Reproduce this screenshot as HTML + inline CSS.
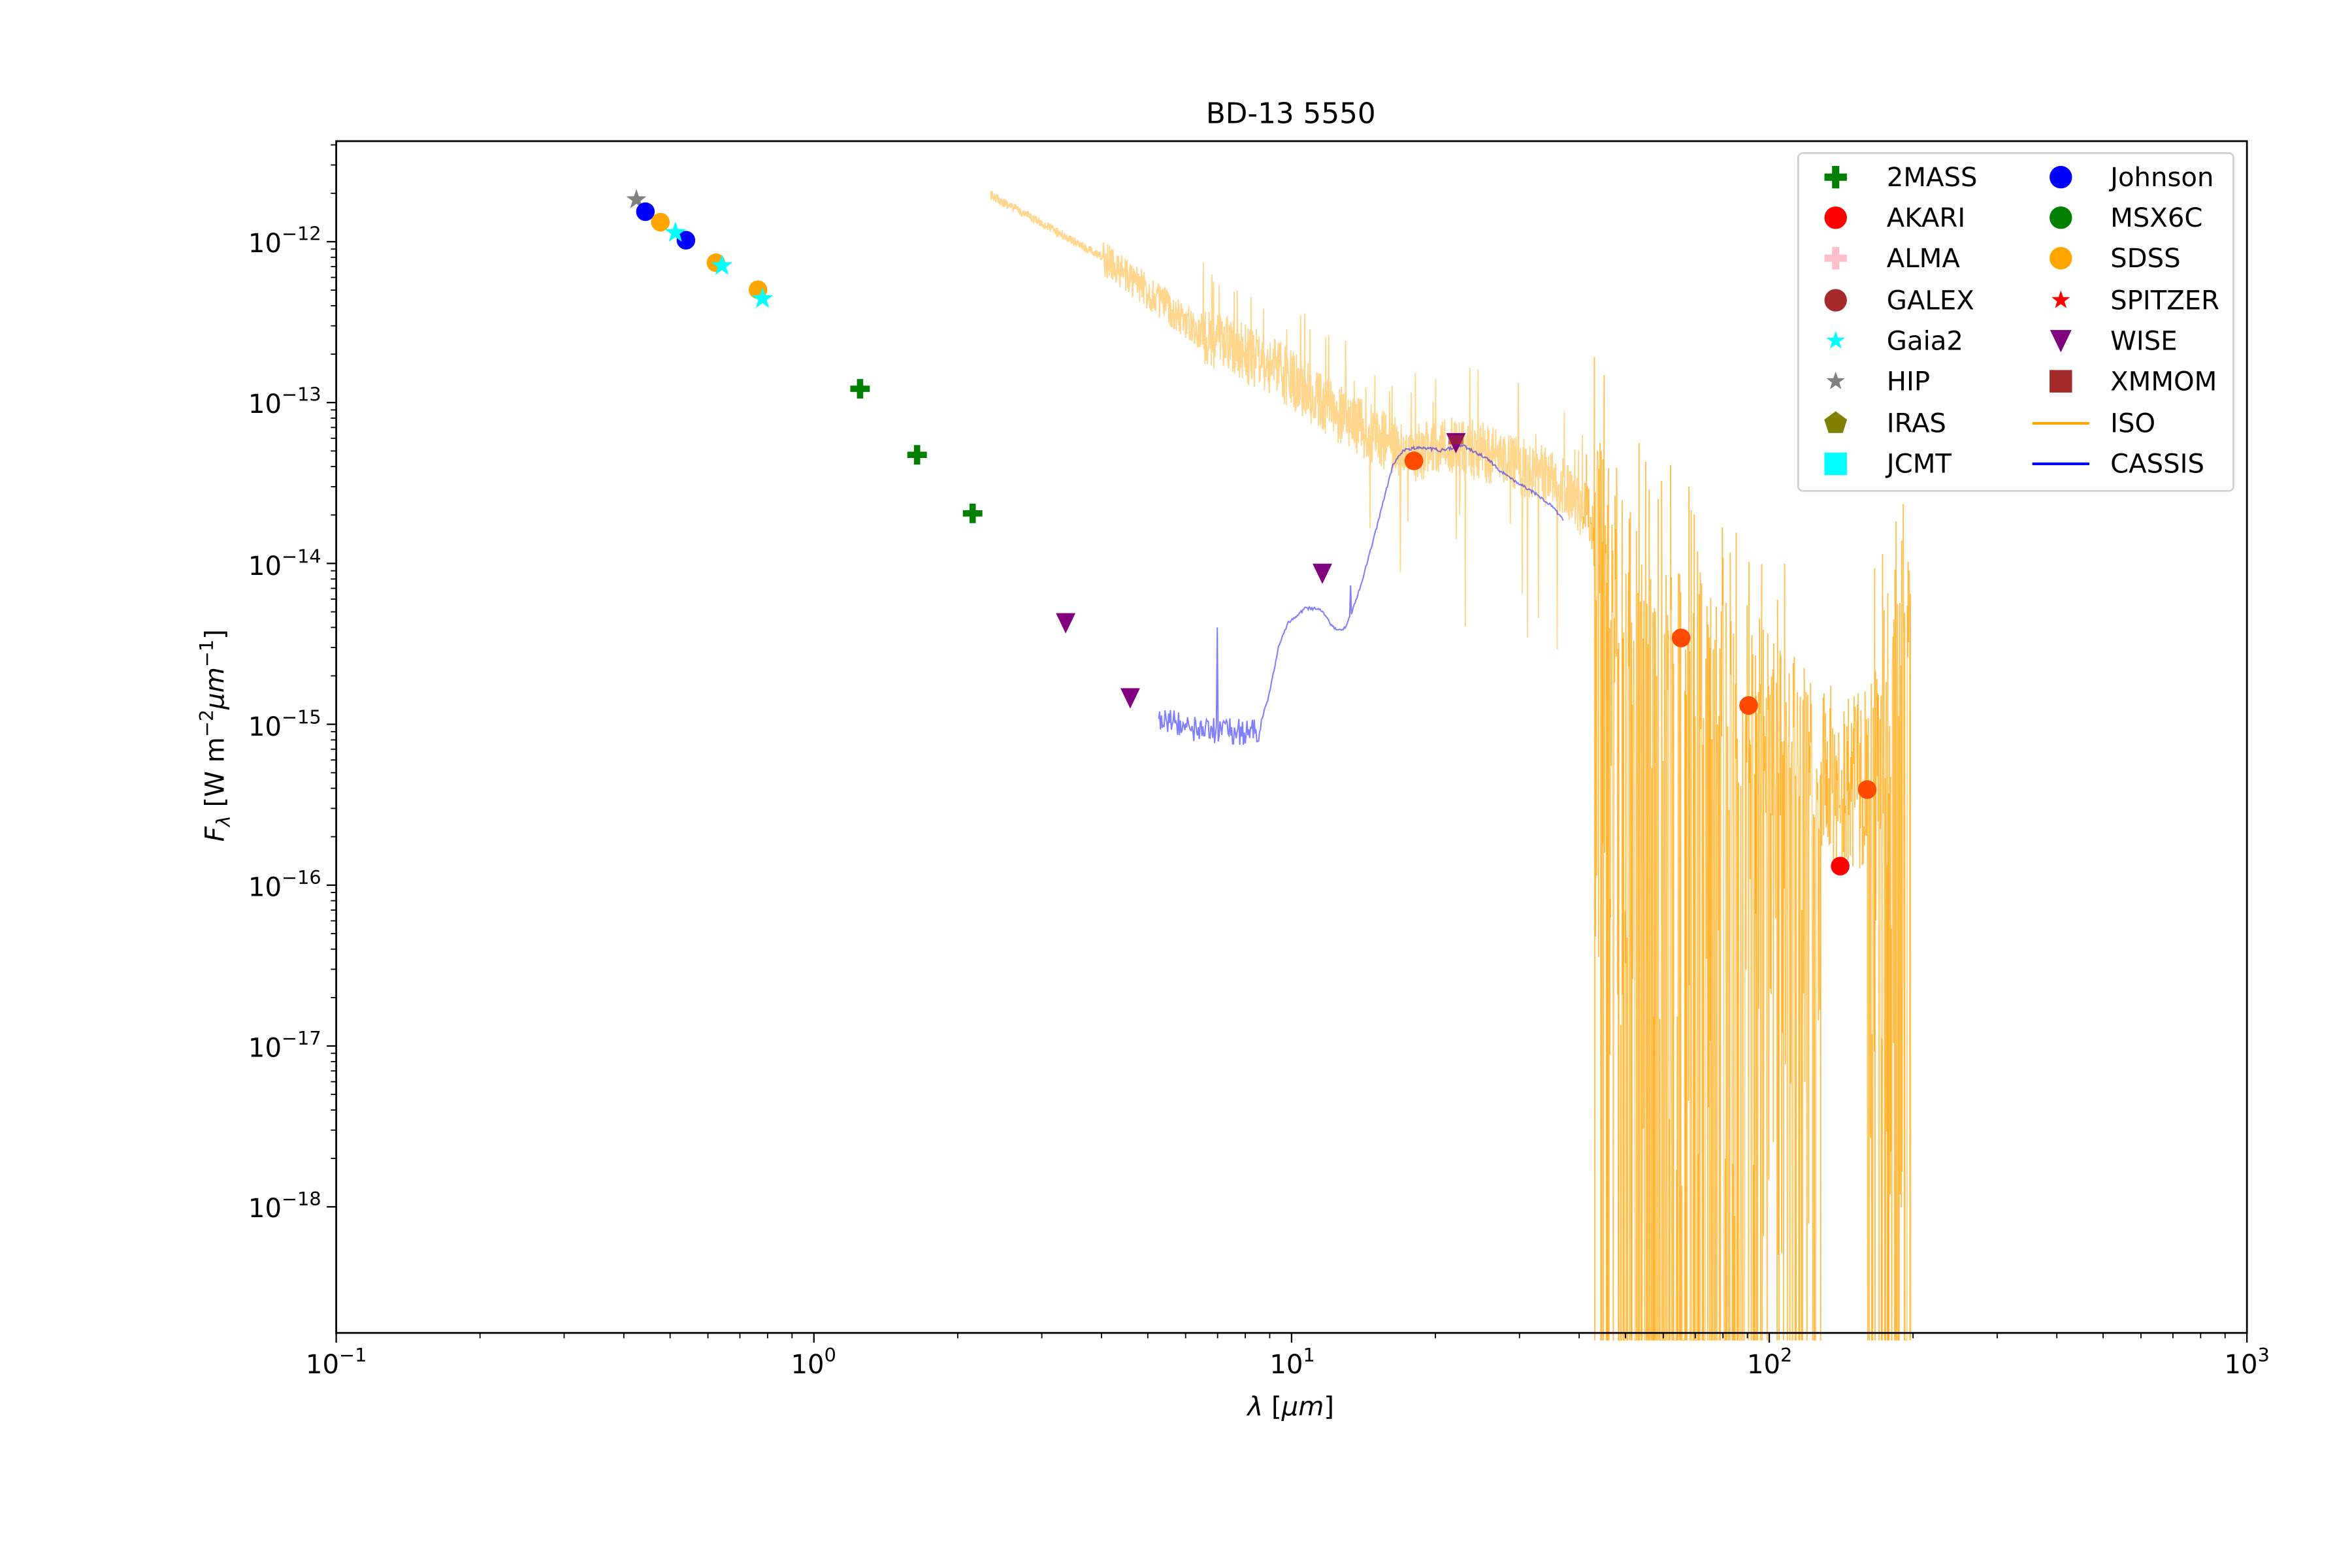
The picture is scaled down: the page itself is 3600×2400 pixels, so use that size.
<!DOCTYPE html>
<html><head><meta charset="utf-8"><style>
html,body{margin:0;padding:0;background:#fff;}
svg{display:block;}
text{font-family:"DejaVu Sans","Liberation Sans",sans-serif;fill:#000;}
</style></head><body>
<svg id="s" width="3600" height="2400" viewBox="0 0 1567 1044.6" xmlns="http://www.w3.org/2000/svg">
<rect x="0" y="0" width="1567" height="1045" fill="#fff"/>
<g id="curves"></g>
<g id="marks"></g>
<rect x="224" y="94" width="1273" height="794" fill="none" stroke="#000" stroke-width="1.2"/>
<g id="ticks" stroke="#000" stroke-width="1"></g>
<text x="860" y="82" font-size="19" text-anchor="middle">BD-13 5550</text>
<g font-size="17.5" text-anchor="middle">
<text x="224" y="915">10<tspan dy="-8" font-size="12.5">−1</tspan></text>
<text x="542" y="915">10<tspan dy="-8" font-size="12.5">0</tspan></text>
<text x="861" y="915">10<tspan dy="-8" font-size="12.5">1</tspan></text>
<text x="1179" y="915">10<tspan dy="-8" font-size="12.5">2</tspan></text>
<text x="1497" y="915">10<tspan dy="-8" font-size="12.5">3</tspan></text>
</g>
<g font-size="17.5" text-anchor="end">
<text x="214" y="168">10<tspan dy="-8" font-size="12.5">−12</tspan></text>
<text x="214" y="275">10<tspan dy="-8" font-size="12.5">−13</tspan></text>
<text x="214" y="383">10<tspan dy="-8" font-size="12.5">−14</tspan></text>
<text x="214" y="490">10<tspan dy="-8" font-size="12.5">−15</tspan></text>
<text x="214" y="597">10<tspan dy="-8" font-size="12.5">−16</tspan></text>
<text x="214" y="704">10<tspan dy="-8" font-size="12.5">−17</tspan></text>
<text x="214" y="811">10<tspan dy="-8" font-size="12.5">−18</tspan></text>
</g>
<text x="860" y="943" font-size="17.5" text-anchor="middle"><tspan font-style="italic">λ</tspan> [<tspan font-style="italic">μm</tspan>]</text>
<text transform="translate(149,490) rotate(-90)" font-size="17.5" text-anchor="middle"><tspan font-style="italic">F</tspan><tspan font-style="italic" font-size="12.5" dy="4">λ</tspan><tspan dy="-4"> [W m</tspan><tspan font-size="12.5" dy="-7">−2</tspan><tspan font-style="italic" dy="7">μm</tspan><tspan font-size="12.5" dy="-7">−1</tspan><tspan dy="7">]</tspan></text>
<rect x="1198" y="102" width="290" height="225" rx="3" fill="#fff" fill-opacity="0.8" stroke="#d0d0d0" stroke-width="1.2"/>
<g id="legm"></g>
<g font-size="17.5">
<text x="1257" y="124">2MASS</text><text x="1257" y="151">AKARI</text><text x="1257" y="178">ALMA</text><text x="1257" y="206">GALEX</text>
<text x="1257" y="233">Gaia2</text><text x="1257" y="260">HIP</text><text x="1257" y="288">IRAS</text><text x="1257" y="315">JCMT</text>
<text x="1406" y="124">Johnson</text><text x="1406" y="151">MSX6C</text><text x="1406" y="178">SDSS</text><text x="1406" y="206">SPITZER</text>
<text x="1406" y="233">WISE</text><text x="1406" y="260">XMMOM</text><text x="1406" y="288">ISO</text><text x="1406" y="315">CASSIS</text>
</g>
</svg>
<script>
var NS="http://www.w3.org/2000/svg";
function el(p,t,a){var e=document.createElementNS(NS,t);for(var k in a)e.setAttribute(k,a[k]);p.appendChild(e);return e;}
var T=document.getElementById('ticks');
for(var d=-1;d<=3;d++){var x0=224+318.25*(d+1);
 el(T,'line',{x1:x0,x2:x0,y1:888,y2:894.5});
 if(d<3)for(var m=2;m<10;m++){var x=x0+318.25*Math.log10(m);el(T,'line',{x1:x,x2:x,y1:888,y2:891.6,'stroke-width':0.8});}}
for(var d=-12;d>=-18;d--){var y0=161+107.17*(-12-d);
 el(T,'line',{x1:217.7,x2:224,y1:y0,y2:y0});}
for(var d=-11;d>=-18;d--){var y0=161+107.17*(-12-d);
 for(var m=2;m<10;m++){var y=y0-107.17*Math.log10(m);if(y>=94&&y<=888)el(T,'line',{x1:220.4,x2:224,y1:y,y2:y,'stroke-width':0.8});}}
var seed=12345;function rnd(){seed=(seed*16807)%2147483647;return seed/2147483647;}
function interp(pts,x){for(var i=0;i<pts.length-1;i++){if(x<=pts[i+1][0]){var a=pts[i],b=pts[i+1];return a[1]+(b[1]-a[1])*(x-a[0])/(b[0]-a[0]);}}return pts[pts.length-1][1];}
var C=document.getElementById('curves');
var iso=[[660,130],[700,152],[740,175],[800,222],[850,245],[900,282],[940,302],[970,296],[1000,305],[1040,322],[1060,345],[1075,375],[1090,405],[1120,430],[1165,470],[1200,500],[1225,520],[1245,520],[1262,470],[1273,420]];
var pts=[];
for(var x=660;x<=1273;x+=0.25){var b=interp(iso,x);var a=x<735?3:(x<800?12:(x<1062?20:60));
 var y=b+(rnd()-0.5)*2*a;
 if(x>1062&&!(x>1213&&x<1244)){var p=(x>1078&&x<1165)?0.45:0.2;if(x>1244)p=0.4;var r=rnd();if(r<p)y=893;else if(r<p+0.2)y=b+60+rnd()*300;}
 else if(x>900&&rnd()<0.02)y=b+40+rnd()*80;
 if(x>800&&x<1062&&rnd()<0.03)y=b-25-rnd()*30;
 if(x>1245&&rnd()<0.06)y=b-80-rnd()*90;
 if(x>1062&&x<1190&&rnd()<0.04)y=b-60-rnd()*60;
 if(y<110)y=110;if(y>893)y=893;
 pts.push([x,y]);}
var d="";var segs=[];
for(var i=0;i<pts.length;i++){var p=pts[i];
 if(p[0]<1055){d+=(i?"L":"M")+p[0].toFixed(2)+","+p[1].toFixed(1);}
 else if(i>0){segs.push("M"+pts[i-1][0].toFixed(2)+","+pts[i-1][1].toFixed(1)+"L"+p[0].toFixed(2)+","+p[1].toFixed(1));}}
el(C,'path',{d:d,fill:'none',stroke:'#ffa500','stroke-opacity':0.45,'stroke-width':0.8});
var G=el(C,'g',{fill:'none',stroke:'#ffa500','stroke-opacity':0.45,'stroke-width':0.8});
for(var i=0;i<segs.length;i++)el(G,'path',{d:segs[i]});
var cas=[[772,478],[790,485],[810,487],[838,488],[845,465],[852,430],[858,415],[870,405],[880,406],[888,418],[895,420],[900,410],[905,395],[910,378],[915,360],[920,340],[928,310],[935,300],[945,298],[960,300],[975,297],[990,305],[1000,314],[1012,322],[1025,330],[1035,338],[1042,347]];
d="";var first=true;
for(var x=772;x<=1042;x+=0.6){var b=interp(cas,x);var a=x<840?9:1;var y=b+(rnd()-0.5)*2*a;
 if(Math.abs(x-811)<0.4)y=418;if(Math.abs(x-900)<0.4)y=390;
 d+=(first?"M":"L")+x.toFixed(2)+","+y.toFixed(1);first=false;}
el(C,'path',{d:d,fill:'none',stroke:'#0000ff','stroke-opacity':0.5,'stroke-width':0.9});
var M=document.getElementById('marks');
function circ(g,x,y,c,r){el(g,'circle',{cx:x,cy:y,r:r||6.2,fill:c});}
function star(g,x,y,c,r){var s="";for(var i=0;i<10;i++){var rr=i%2?r*0.4:r;var an=-Math.PI/2+i*Math.PI/5;s+=(i?"L":"M")+(x+rr*Math.cos(an)).toFixed(2)+","+(y+rr*Math.sin(an)).toFixed(2);}el(g,'path',{d:s+"Z",fill:c});}
function plus(g,x,y,c,k){k=k||1;var a=6.5*k,b=2.1*k;el(g,'path',{d:"M"+(x-a)+","+(y-b)+"H"+(x-b)+"V"+(y-a)+"H"+(x+b)+"V"+(y-b)+"H"+(x+a)+"V"+(y+b)+"H"+(x+b)+"V"+(y+a)+"H"+(x-b)+"V"+(y+b)+"H"+(x-a)+"Z",fill:c});}
function tri(g,x,y,c,k){k=k||1;el(g,'path',{d:"M"+(x-6.5*k)+","+(y-6.5*k)+"L"+(x+6.5*k)+","+(y-6.5*k)+"L"+x+","+(y+7*k)+"Z",fill:c});}
function sq(g,x,y,c){el(g,'rect',{x:x-7.5,y:y-7.5,width:15,height:15,fill:c});}
function pent(g,x,y,c){var s="";for(var i=0;i<5;i++){var an=-Math.PI/2+i*2*Math.PI/5;s+=(i?"L":"M")+(x+8*Math.cos(an)).toFixed(2)+","+(y+8*Math.sin(an)).toFixed(2);}el(g,'path',{d:s+"Z",fill:c});}
circ(M,942,307,'#ff0000');circ(M,1120,425,'#ff0000');circ(M,1165,470,'#ff0000');circ(M,1226,577,'#ff0000');circ(M,1244,526,'#ff0000');
[[942,307],[1120,425],[1165,470],[1244,526]].forEach(function(p){el(M,'circle',{cx:p[0],cy:p[1],r:6.2,fill:'#ffa500','fill-opacity':0.45});});
plus(M,573,259,'#008000');plus(M,611,303,'#008000');plus(M,648,342,'#008000');
tri(M,710,415,'#800080');tri(M,753,465,'#800080');tri(M,881,382,'#800080');tri(M,970,295,'#800080');
el(M,'rect',{x:965,y:290,width:10,height:6,fill:'#a52a2a','fill-opacity':0.6});
star(M,424,133,'#808080',7);
circ(M,430,141,'#0000ff');circ(M,457,160,'#0000ff');
circ(M,440,148,'#ffa500');circ(M,477,175,'#ffa500');circ(M,505,193,'#ffa500');
star(M,450,155,'#00ffff',7.5);star(M,481,177,'#00ffff',7.5);star(M,508,199,'#00ffff',7.5);
var L=document.getElementById('legm');
plus(L,1223,118,'#008000',1.15);circ(L,1223,145,'#ff0000',7.5);plus(L,1223,172,'#ffc0cb',1.15);circ(L,1223,200,'#a52a2a',7.5);
star(L,1223,227,'#00ffff',6.5);star(L,1223,254,'#808080',6.5);pent(L,1223,282,'#808000');sq(L,1223,309,'#00ffff');
circ(L,1373,118,'#0000ff',7.5);circ(L,1373,145,'#008000',7.5);circ(L,1373,172,'#ffa500',7.5);star(L,1373,200,'#ff0000',6.5);
tri(L,1373,227,'#800080',1.1);sq(L,1373,254,'#a52a2a');
el(L,'line',{x1:1354,x2:1392,y1:282,y2:282,stroke:'#ffa500','stroke-width':1.8});
el(L,'line',{x1:1354,x2:1392,y1:309,y2:309,stroke:'#0000ff','stroke-width':1.8});
</script>
</body></html>
